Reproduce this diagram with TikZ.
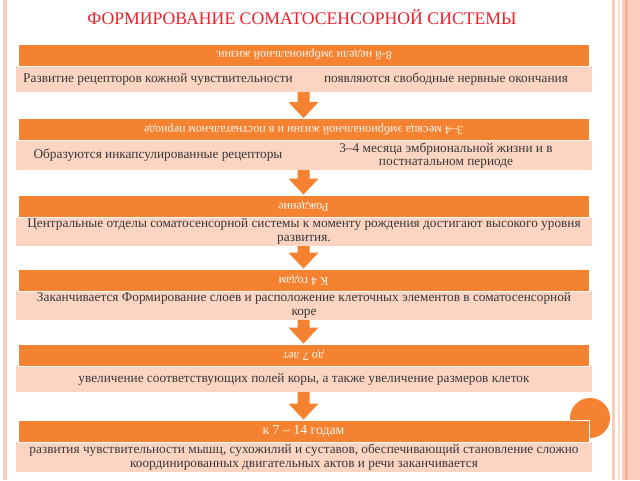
\documentclass[tikz,border=0pt]{standalone}
\usepackage{graphicx}
\usepackage{fontspec}
\setmainfont{Liberation Serif}
\usetikzlibrary{calc}
\definecolor{headfill}{RGB}{245,130,48}
\definecolor{bodyfill}{RGB}{252,212,194}
\definecolor{titlered}{RGB}{232,35,45}
\definecolor{framepink}{RGB}{250,205,188}
\definecolor{framedark}{RGB}{246,178,152}

\begin{document}
\begin{tikzpicture}[x=1pt,y=-1pt,
  head/.style={rectangle,fill=headfill,draw=white,line width=0.8pt,minimum width=571pt,minimum height=22pt,inner sep=0pt,text=white!95!orange,font=\fontsize{12.1}{13}\selectfont},
  body/.style={rectangle,fill=bodyfill,minimum width=576pt,minimum height=29pt,inner sep=0pt,align=center,text=black!78,font=\fontsize{13.3}{14.5}\selectfont},
  flowarrow/.style={fill=headfill}]
\useasboundingbox (0,0) rectangle (640,480);
\fill[white] (0,0) rectangle (640,480);
\fill[framepink] (3,0) rectangle (7,480);
\fill[framepink] (612,0) rectangle (615,480);
\fill[framepink!70] (618,0) rectangle (620,480);
\fill[framepink] (622,0) rectangle (640,480);
\fill[framedark] (625,0) rectangle (628,480);

\node[font=\fontsize{17.7}{20}\selectfont,text=titlered] (title) at (302,17) {ФОРМИРОВАНИЕ СОМАТОСЕНСОРНОЙ СИСТЕМЫ};

\node[body,minimum width=284pt,minimum height=26pt] (b1l) at (158,79) {Развитие рецепторов кожной чувствительности};
\node[body,minimum width=292pt,minimum height=26pt] (b1r) at (446,79) {появляются свободные нервные окончания};
\node[body,minimum width=284pt] (b2l) at (158,155.5) {Образуются инкапсулированные рецепторы};
\node[body,minimum width=292pt,font=\fontsize{13.3}{13}\selectfont] (b2r) at (446,155.5) {3--4 месяца эмбриональной жизни и в\\постнатальном периоде};
\node[body] (b3) at (304,231.5) {Центральные отделы соматосенсорной системы к моменту рождения достигают высокого уровня\\развития.};
\node[body] (b4) at (304,305.5) {Заканчивается Формирование слоев и расположение клеточных элементов в соматосенсорной\\коре};
\node[body,minimum height=26pt] (b5) at (304,379) {увеличение соответствующих полей коры, а также увеличение размеров клеток};
\node[body,minimum height=30pt] (b6) at (304,457) {развития чувствительности мышц, сухожилий и суставов, обеспечивающий становление сложно\\координированных двигательных актов и речи заканчивается};

\fill[headfill] (590,418) circle (20);

\node[head] (h1) at (303.5,55) {\rotatebox{180}{8-й недели эмбриональной жизни.}};
\node[head] (h2) at (303.5,129.5) {\rotatebox{180}{3--4 месяца эмбриональной жизни и в постнатальном периоде}};
\node[head] (h3) at (303.5,206) {\rotatebox{180}{Рождение}};
\node[head] (h4) at (303.5,280) {\rotatebox{180}{К 4 годам}};
\node[head] (h5) at (303.5,355) {\rotatebox{180}{до 7 лет}};
\node[head,font=\fontsize{13.8}{15}\selectfont] (h6) at (303.5,431) {к 7 -- 14 годам};

\foreach \a/\b in {b1l/h2,b2l/h3,b3/h4,b4/h5,b5/h6}
  \fill[flowarrow] let \p1=(\b.north |- \a.south), \p2=(\b.north) in
    (\x1-6pt,\y1) -- (\x1+6pt,\y1) -- (\x1+6pt,\y2+16pt) -- (\x1+15pt,\y2+16pt)
    -- (\x2,\y2) -- (\x1-15pt,\y2+16pt) -- (\x1-6pt,\y2+16pt) -- cycle;
\end{tikzpicture}
\end{document}
